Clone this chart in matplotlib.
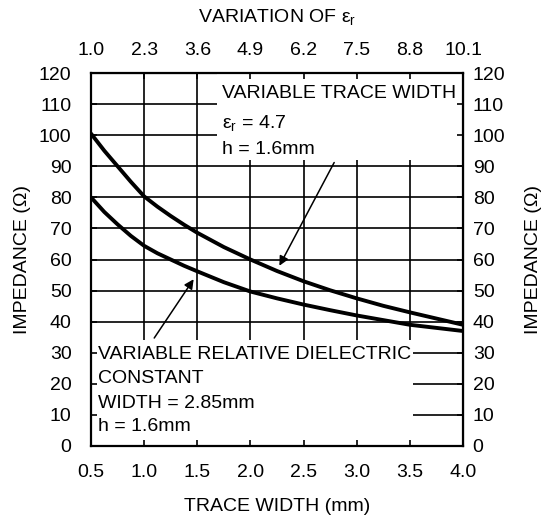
import numpy as np
import matplotlib
matplotlib.use("Agg")
import matplotlib.pyplot as plt
from matplotlib.patches import Rectangle

plt.rcParams['font.family'] = ['Liberation Sans', 'DejaVu Sans']
plt.rcParams['font.size'] = 14

# 데이터: 선폭(mm)과 임피던스(ohm)
width_ticks = [0.5, 1.0, 1.5, 2.0, 2.5, 3.0, 3.5, 4.0]
er_labels = ["1.0", "2.3", "3.6", "4.9", "6.2", "7.5", "8.8", "10.1"]
imp_ticks = [0, 10, 20, 30, 40, 50, 60, 70, 80, 90, 100, 110, 120]

curve_x = [0.5, 0.625, 0.75, 0.875, 1.0, 1.125, 1.25, 1.375, 1.5, 1.75,
           2.0, 2.25, 2.5, 2.75, 3.0, 3.25, 3.5, 3.75, 4.0]
trace_width_z = [100.5, 95.0, 90.0, 85.0, 80.3, 77.0, 74.0, 71.2, 68.6, 64.0,
                 60.0, 56.3, 53.0, 50.1, 47.5, 45.1, 43.0, 41.0, 39.0]
dielectric_z = [80.0, 75.3, 71.3, 67.6, 64.4, 62.0, 60.0, 58.0, 56.2, 52.7,
                49.7, 47.5, 45.5, 43.7, 42.0, 40.5, 39.0, 38.0, 37.0]

fig = plt.figure(figsize=(5.53, 5.18), dpi=100)
ax = fig.add_axes([0.1646, 0.139, 0.6727, 0.720])
ax.set_xlim(0.5, 4.0)
ax.set_ylim(0, 120)

# 격자 (박스로 가려지도록 직접 그림)
ax.hlines(imp_ticks, 0.5, 4.0, color='black', lw=1.2, zorder=1)
ax.vlines(width_ticks, 0, 120, color='black', lw=1.2, zorder=1)

# 흰색 글상자
ax.add_patch(Rectangle((1.686, 92), 4.0 - 1.686, 28, facecolor='white', edgecolor='none', zorder=2))
ax.add_patch(Rectangle((0.5, 0), 3.53 - 0.5, 34, facecolor='white', edgecolor='none', zorder=2))

ax.plot(curve_x, trace_width_z, color='black', lw=2.8, zorder=3, solid_capstyle='round')
ax.plot(curve_x, dielectric_z, color='black', lw=2.8, zorder=3, solid_capstyle='round')

ax.text(1.73, 113.5, "VARIABLE TRACE WIDTH", ha='left', va='center', zorder=4)
ax.text(1.73, 103.5, "ε$_\\mathregular{r}$ = 4.7", ha='left', va='center', zorder=4)
ax.text(1.73, 95.5, "h = 1.6mm", ha='left', va='center', zorder=4)

ax.text(0.565, 29.5, "VARIABLE RELATIVE DIELECTRIC", ha='left', va='center', zorder=4)
ax.text(0.565, 21.8, "CONSTANT", ha='left', va='center', zorder=4)
ax.text(0.565, 13.7, "WIDTH = 2.85mm", ha='left', va='center', zorder=4)
ax.text(0.565, 6.2, "h = 1.6mm", ha='left', va='center', zorder=4)

# 화살표
ax.annotate("", xy=(2.26, 57.2), xytext=(2.80, 92),
            arrowprops=dict(arrowstyle='-|>', color='black', lw=1.1, mutation_scale=14), zorder=4)
ax.annotate("", xy=(1.48, 54.4), xytext=(1.08, 34),
            arrowprops=dict(arrowstyle='-|>', color='black', lw=1.1, mutation_scale=14), zorder=4)

ax.set_axisbelow(False)
ax.set_xticks(width_ticks)
ax.set_xticklabels(["%.1f" % v for v in width_ticks])
ax.set_yticks(imp_ticks)
ax.tick_params(direction='in', length=4, width=1.2, top=True, right=True)
ax.tick_params(axis='x', pad=13)
ax.tick_params(axis='y', pad=14)
for s in ax.spines.values():
    s.set_linewidth(1.6)

ax.set_xlabel("TRACE WIDTH (mm)", labelpad=12)
ax.set_ylabel("IMPEDANCE (Ω)", labelpad=6)

secx = ax.secondary_xaxis('top')
secx.set_xticks(width_ticks, labels=er_labels)
secx.tick_params(direction='in', length=0, pad=10)
secx.set_xlabel("VARIATION OF ε$_\\mathregular{r}$", labelpad=14)

secy = ax.secondary_yaxis('right')
secy.set_yticks(imp_ticks)
secy.tick_params(direction='in', length=0, pad=7)
secy.set_ylabel("IMPEDANCE (Ω)", labelpad=14)

fig.savefig("out.png", dpi=100)
